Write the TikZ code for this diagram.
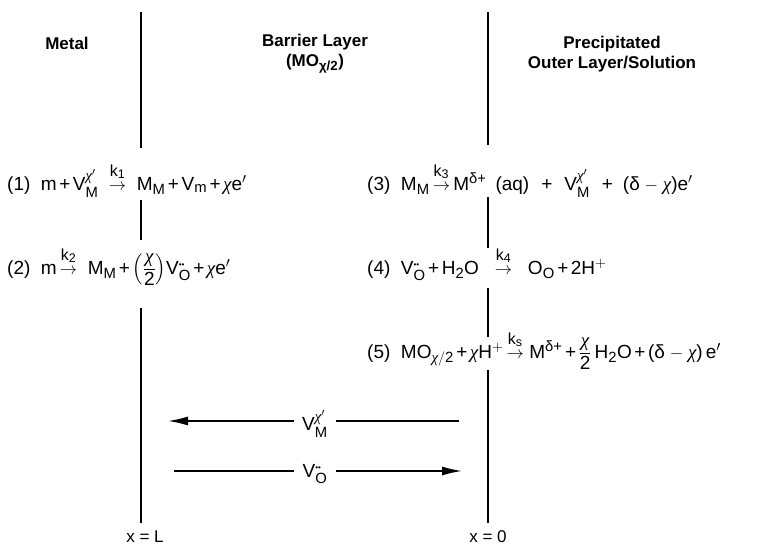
\documentclass[tikz,border=0pt]{standalone}
\usepackage{amsmath}
\usepackage{fontspec}
\setmainfont{Liberation Sans}
\newfontfamily\grfont{Liberation Serif}
\renewcommand\defaultscriptratio{.78}
\renewcommand\defaultscriptscriptratio{.6}
\usetikzlibrary{arrows.meta}
\newcommand\chii{\text{\grfont\itshape χ}}
\newcommand\sbb[1]{$_{\text{#1}}$}
\newcommand\ssp[2]{$^{#2}_{\text{#1}}$}
\newcommand\kar[1]{$\overset{\raisebox{4pt}{\fontsize{16}{16}\selectfont k$_{\text{#1}}$}}{\rightarrow}$}
\newcommand\vdd{\text{\fontsize{8}{8}\selectfont ••}}
\newcommand\pl{\hspace{2.5pt}+\hspace{2.5pt}}
\tikzset{
  head/.style={font=\fontsize{17}{20}\selectfont\bfseries, align=center, inner sep=0pt},
  eqn/.style={font=\fontsize{19}{22}\selectfont, anchor=base west, inner sep=0pt},
  wall/.style={line width=1.6pt},
  flux/.style={line width=1.6pt},
  fluxlbl/.style={font=\fontsize{19}{22}\selectfont, inner xsep=8pt, inner ysep=0pt},
  tip/.style={-{Latex[length=20pt,width=9pt]}},
  poslbl/.style={font=\fontsize{17}{20}\selectfont, inner sep=0pt}
}
\begin{document}
\begin{tikzpicture}[x=1pt,y=-1pt]
\useasboundingbox (0,0) rectangle (760,546);
% headings
\node[head] (metal) at (67,43) {Metal};
\node[head] (barrier) at (315,54) {Barrier Layer\\(MO\textsubscript{χ/2})};
\node[head] (precip) at (612,54) {Precipitated\\Outer Layer/Solution};
% walls
\draw[wall] (141,12) -- (141,148);
\draw[wall] (141,200) -- (141,240);
\draw[wall] (141,308) -- (141,523);
\draw[wall] (488,12) -- (488,145);
\draw[wall] (488,197) -- (488,248);
\draw[wall] (488,288) -- (488,337);
\draw[wall] (488,370) -- (488,523);
% equations
\node[eqn] (e1) at (7,190) {(1)~~m\pl V\ssp{M}{\chii'}~~\kar{1}~~M\sbb{M}\pl V\sbb{m}\pl$\chii$e$'$};
\node[eqn] (e2) at (7,274) {(2)~~m\,\kar{2}~~M\sbb{M}\pl$\left(\dfrac{\chii}{\text{2}}\right)$V\ssp{O}{\vdd}\pl$\chii$e$'$};
\node[eqn] (e3) at (367,190) {(3)~~M\sbb{M}\,\kar{3}\,M$^{\text{δ+}}$\hspace{9pt}(aq)\hspace{12pt}+\hspace{12pt}V\ssp{M}{\chii'}\hspace{12pt}+\hspace{10pt}(δ$\;-\;\chii$)e$'$};
\node[eqn] (e4) at (367,274) {(4)~~V\ssp{O}{\vdd}\pl H\sbb{2}O~~~\kar{4}~~~O\sbb{O}\pl 2H$^{+}$};
\node[eqn] (e5) at (367,358) {(5)~~MO$_{\chii/\text{2}}$\pl$\chii$H$^{+}$\,\kar{s}~M$^{\text{δ+}}$\pl$\dfrac{\chii}{\text{2}}$\,H\sbb{2}O\pl(δ$\;-\;\chii$)\,e$'$};
% fluxes
\node[fluxlbl] (vm) at (315,424) {V\ssp{M}{\chii'}};
\node[fluxlbl] (vo) at (315,474) {V\ssp{O}{\vdd}};
\coordinate (vmR) at (459,421);
\coordinate (vmL) at (168,421);
\coordinate (voL) at (174,471);
\coordinate (voR) at (462,471);
\draw[flux] (vmR) -- (vm.east |- vmR);
\draw[flux,tip] (vm.west |- vmL) -- (vmL);
\draw[flux] (voL) -- (vo.west |- voL);
\draw[flux,tip] (vo.east |- voR) -- (voR);
% positions
\node[poslbl] (xl) at (145,537) {x = L};
\node[poslbl] (x0) at (488,537) {x = 0};
\end{tikzpicture}
\end{document}
